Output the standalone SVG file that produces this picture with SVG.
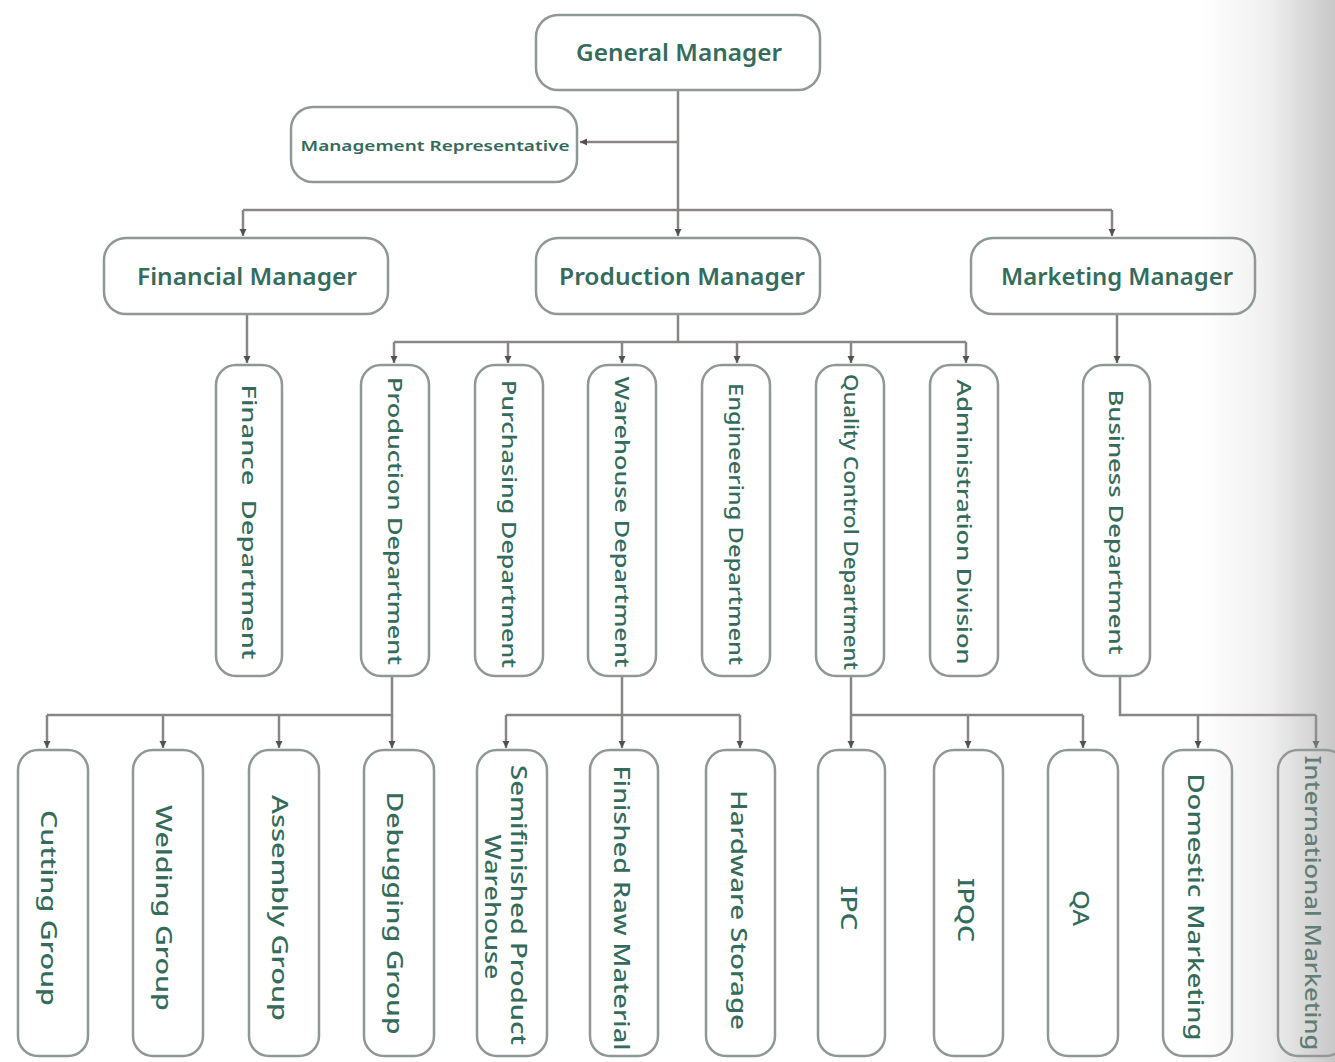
<svg xmlns="http://www.w3.org/2000/svg" width="1335" height="1062" viewBox="0 0 1335 1062">
<style>
.box{fill:#ffffff;stroke:#8f9893;stroke-width:2.5}
.t{font-family:"Noto Sans","Open Sans",sans-serif;fill:#356b5b;font-weight:600;text-anchor:middle;dominant-baseline:central}
.v{font-size:19px;font-weight:500}
.w{font-size:22px;font-weight:500}
.h{font-size:23px}
.c{fill:none;stroke:#8a8585;stroke-width:2.5}
</style>
<defs>
<marker id="a" markerUnits="userSpaceOnUse" markerWidth="8" markerHeight="8" refX="7" refY="4" orient="auto">
<path d="M0,0.5 L7,4 L0,7.5 z" fill="#555050"/>
</marker>
<linearGradient id="sh" x1="0" y1="0" x2="1" y2="0">
<stop offset="0" stop-color="#9a9a9a" stop-opacity="0"/>
<stop offset="0.5" stop-color="#9a9a9a" stop-opacity="0.15"/>
<stop offset="1" stop-color="#9a9a9a" stop-opacity="0.55"/>
</linearGradient>
</defs>
<rect width="1335" height="1062" fill="#ffffff"/>
<g id="connectors">
<path class="c" d="M678,90 V236" marker-end="url(#a)"/>
<path class="c" d="M678,142 H580" marker-end="url(#a)"/>
<path class="c" d="M243,210 H1112"/>
<path class="c" d="M243,210 V236" marker-end="url(#a)"/>
<path class="c" d="M1112,210 V236" marker-end="url(#a)"/>
<path class="c" d="M247,314 V363" marker-end="url(#a)"/>
<path class="c" d="M678,314 V342"/>
<path class="c" d="M394,342 H966"/>
<path class="c" d="M394,342 V363" marker-end="url(#a)"/>
<path class="c" d="M508,342 V363" marker-end="url(#a)"/>
<path class="c" d="M622,342 V363" marker-end="url(#a)"/>
<path class="c" d="M737,342 V363" marker-end="url(#a)"/>
<path class="c" d="M851,342 V363" marker-end="url(#a)"/>
<path class="c" d="M966,342 V363" marker-end="url(#a)"/>
<path class="c" d="M1117,314 V363" marker-end="url(#a)"/>
<path class="c" d="M392,676 V715 H47"/>
<path class="c" d="M47,715 V748" marker-end="url(#a)"/>
<path class="c" d="M163,715 V748" marker-end="url(#a)"/>
<path class="c" d="M279,715 V748" marker-end="url(#a)"/>
<path class="c" d="M392,715 V748" marker-end="url(#a)"/>
<path class="c" d="M622,676 V748" marker-end="url(#a)"/>
<path class="c" d="M506,715 H740"/>
<path class="c" d="M506,715 V748" marker-end="url(#a)"/>
<path class="c" d="M740,715 V748" marker-end="url(#a)"/>
<path class="c" d="M851,676 V748" marker-end="url(#a)"/>
<path class="c" d="M851,715 H1083"/>
<path class="c" d="M968,715 V748" marker-end="url(#a)"/>
<path class="c" d="M1083,715 V748" marker-end="url(#a)"/>
<path class="c" d="M1120,676 V715 H1316"/>
<path class="c" d="M1198,715 V748" marker-end="url(#a)"/>
<path class="c" d="M1316,715 V748" marker-end="url(#a)"/>
</g>
<g id="general-manager"><rect class="box" x="536" y="15" width="284" height="75" rx="22"/><text class="t h" x="679" y="52" textLength="206" lengthAdjust="spacingAndGlyphs">General Manager</text></g>
<g id="management-representative"><rect class="box" x="291" y="107" width="286" height="75" rx="22"/><text class="t" x="435" y="145" font-size="15" textLength="269" lengthAdjust="spacingAndGlyphs">Management Representative</text></g>
<g id="financial-manager"><rect class="box" x="104" y="238" width="284" height="76" rx="22"/><text class="t h" x="247" y="276" textLength="220" lengthAdjust="spacingAndGlyphs">Financial Manager</text></g>
<g id="production-manager"><rect class="box" x="536" y="238" width="284" height="76" rx="22"/><text class="t h" x="682" y="276" textLength="246" lengthAdjust="spacingAndGlyphs">Production Manager</text></g>
<g id="marketing-manager"><rect class="box" x="971" y="238" width="284" height="76" rx="22"/><text class="t h" x="1117" y="276" textLength="232" lengthAdjust="spacingAndGlyphs">Marketing Manager</text></g>

<g id="finance-department"><rect class="box" x="216" y="365" width="66" height="311" rx="20"/><text class="t v" transform="translate(249,522) rotate(90)" textLength="275" lengthAdjust="spacingAndGlyphs" xml:space="preserve">Finance  Department</text></g>
<g id="production-department"><rect class="box" x="361" y="365" width="68" height="311" rx="20"/><text class="t v" transform="translate(395,521) rotate(90)" textLength="288" lengthAdjust="spacingAndGlyphs">Production Department</text></g>
<g id="purchasing-department"><rect class="box" x="475" y="365" width="68" height="311" rx="20"/><text class="t v" transform="translate(509,524) rotate(90)" textLength="288" lengthAdjust="spacingAndGlyphs">Purchasing Department</text></g>
<g id="warehouse-department"><rect class="box" x="588" y="365" width="68" height="311" rx="20"/><text class="t v" transform="translate(622,522) rotate(90)" textLength="291" lengthAdjust="spacingAndGlyphs">Warehouse Department</text></g>
<g id="engineering-department"><rect class="box" x="702" y="365" width="68" height="311" rx="20"/><text class="t v" transform="translate(736,524) rotate(90)" textLength="282" lengthAdjust="spacingAndGlyphs">Engineering Department</text></g>
<g id="quality-control-department"><rect class="box" x="816" y="365" width="68" height="311" rx="20"/><text class="t v" transform="translate(851,522) rotate(90)" textLength="296" lengthAdjust="spacingAndGlyphs">Quality Control Department</text></g>
<g id="administration-division"><rect class="box" x="930" y="365" width="68" height="311" rx="20"/><text class="t v" transform="translate(964,522) rotate(90)" textLength="285" lengthAdjust="spacingAndGlyphs">Administration Division</text></g>
<g id="business-department"><rect class="box" x="1083" y="365" width="67" height="311" rx="20"/><text class="t v" transform="translate(1116,522) rotate(90)" textLength="265" lengthAdjust="spacingAndGlyphs">Business Department</text></g>

<g id="cutting-group"><rect class="box" x="18" y="750" width="70" height="306" rx="20"/><text class="t w" transform="translate(50,908) rotate(90)" textLength="196" lengthAdjust="spacingAndGlyphs">Cutting Group</text></g>
<g id="welding-group"><rect class="box" x="133" y="750" width="70" height="306" rx="20"/><text class="t w" transform="translate(165,908) rotate(90)" textLength="206" lengthAdjust="spacingAndGlyphs">Welding Group</text></g>
<g id="assembly-group"><rect class="box" x="249" y="750" width="70" height="306" rx="20"/><text class="t w" transform="translate(281,908) rotate(90)" textLength="226" lengthAdjust="spacingAndGlyphs">Assembly Group</text></g>
<g id="debugging-group"><rect class="box" x="364" y="750" width="70" height="306" rx="20"/><text class="t w" transform="translate(396,913) rotate(90)" textLength="243" lengthAdjust="spacingAndGlyphs">Debugging Group</text></g>
<g id="semifinished-product-warehouse"><rect class="box" x="477" y="750" width="70" height="306" rx="20"/><text class="t w" transform="translate(520,905) rotate(90)" textLength="280" lengthAdjust="spacingAndGlyphs">Semifinished Product</text><text class="t w" transform="translate(494,907) rotate(90)" textLength="145" lengthAdjust="spacingAndGlyphs">Warehouse</text></g>
<g id="finished-raw-material"><rect class="box" x="590" y="750" width="68" height="306" rx="20"/><text class="t w" transform="translate(623,908) rotate(90)" textLength="285" lengthAdjust="spacingAndGlyphs">Finished Raw Material</text></g>
<g id="hardware-storage"><rect class="box" x="706" y="750" width="69" height="306" rx="20"/><text class="t w" transform="translate(740,910) rotate(90)" textLength="240" lengthAdjust="spacingAndGlyphs">Hardware Storage</text></g>
<g id="ipc"><rect class="box" x="818" y="750" width="67" height="306" rx="20"/><text class="t w" transform="translate(850,908) rotate(90)" textLength="45" lengthAdjust="spacingAndGlyphs">IPC</text></g>
<g id="ipqc"><rect class="box" x="934" y="750" width="69" height="306" rx="20"/><text class="t w" transform="translate(967,910) rotate(90)" textLength="64" lengthAdjust="spacingAndGlyphs">IPQC</text></g>
<g id="qa"><rect class="box" x="1048" y="750" width="70" height="306" rx="20"/><text class="t w" transform="translate(1082,908) rotate(90)" textLength="36" lengthAdjust="spacingAndGlyphs">QA</text></g>
<g id="domestic-marketing"><rect class="box" x="1163" y="750" width="69" height="306" rx="20"/><text class="t w" transform="translate(1197,907) rotate(90)" textLength="267" lengthAdjust="spacingAndGlyphs">Domestic Marketing</text></g>
<g id="international-marketing"><rect class="box" x="1278" y="750" width="68" height="306" rx="20"/><text class="t w" transform="translate(1314,903) rotate(90)" textLength="295" lengthAdjust="spacingAndGlyphs">International Marketing</text></g>
<rect x="1200" y="0" width="135" height="1062" fill="url(#sh)"/>
</svg>
